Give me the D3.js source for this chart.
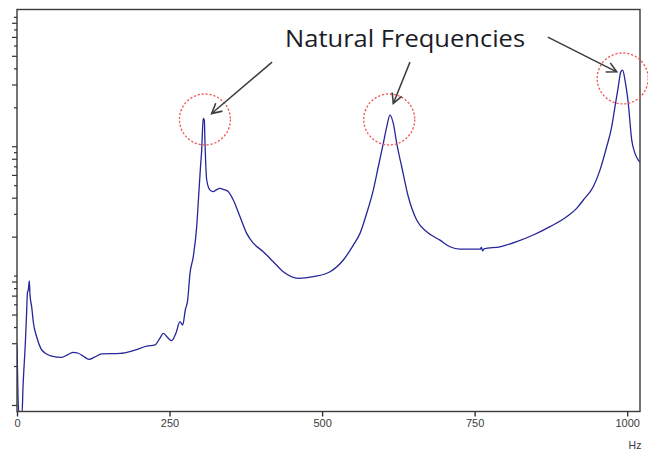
<!DOCTYPE html>
<html><head><meta charset="utf-8">
<script src="https://cdn.jsdelivr.net/npm/d3@7"></script>
<style>html,body{margin:0;padding:0;background:#fff;}svg{display:block;}</style>
</head><body>
<script>
// ---- data ----
const freqHz = [0,1.6,3.3,8.2,9.8,13.9,15.6,17.2,18.5,20.2,21.3,24.1,26.7,32.3,38.8,45.9,56.9,73.3,81.9,91.8,100.5,108.2,118.0,127.8,138.8,168.8,190.6,212.6,226.2,234.3,239.8,247.5,253.5,260.6,267.1,271.6,275.8,279.7,283.5,288.9,294.5,298.3,301.1,302.7,304.0,305.3,307.0,308.1,310.9,316.3,321.7,326.1,332.7,339.2,346.3,354.5,365.5,376.4,387.3,403.6,420.0,436.4,461.0,485.6,513.0,534.8,551.2,562.1,573.1,583.9,592.1,600.3,605.9,611.3,616.7,622.3,630.5,641.3,655.0,671.4,693.2,709.6,726.0,758.8,761.2,762.9,765.3,791.5,818.9,846.1,873.5,900.8,917.2,928.1,944.4,955.4,966.4,974.6,980.0,985.4,989.4,992.6,996.4,1001.8,1007.4,1012.8,1018.2,1021];
const amplitude = [2.91,1.19,0.85,0.85,1.35,3.18,4.96,7.46,7.73,9.08,7.07,5.71,4.38,3.35,2.75,2.52,2.39,2.33,2.43,2.55,2.51,2.39,2.25,2.35,2.48,2.50,2.63,2.85,2.91,3.29,3.58,3.29,3.14,3.60,4.40,4.15,5.42,6.47,10.4,14.0,23.9,45.8,73.7,93.4,133,164,159,106,54.8,45.8,44.5,45.8,47.2,46.2,44.5,38.4,28.5,21.2,17.8,15.3,12.8,10.7,9.52,9.80,10.7,13.2,17.2,21.2,30.3,45.8,69.4,105,141,174,150,105,69.4,40.7,26.9,21.8,18.8,16.7,16.0,16.0,16.5,15.5,16.1,16.7,18.3,20.6,23.9,28.5,33.1,38.4,48.6,65.4,99.0,141,202,288,374,388,324,214,112,88.1,78.2,75.4];
const xTicks = [0, 250, 500, 750, 1000];
const xTickLabels = ["0", "250", "500", "750", "1000"];
const yTicks = [1,2,3,4,5,6,7,8,9,10,20,30,40,50,60,70,80,90,100,200,300,400,500,600,700,800,900,1000];
const xUnit = "Hz";
const annotationText = "Natural Frequencies";
const textAnchorHz = 636, textAnchorAmp = 587;
const circleHz  = [308, 610, 992.6];
const circleAmp = [161, 161, 334];
const arrowFromHz  = [418, 644, 870];
const arrowFromAmp = [447, 447, 697];
const arrowToHz    = [319, 616.7, 982.8];
const arrowToAmp   = [179, 214, 376];

// ---- layout ----
const W = 648, H = 450;
const L = 17, R = 640, T = 9.5, B = 411.5;

const svg = d3.select("body").append("svg").attr("width", W).attr("height", H);

const x = d3.scaleLinear().domain([0, 1021]).range([L, R]);
const y = d3.scaleLog().domain([0.89, 1140]).range([B, T]);

svg.append("defs").append("clipPath").attr("id","clip")
  .append("rect").attr("x", L).attr("y", T).attr("width", R - L).attr("height", B - T);

// curve
const pts = freqHz.map((f, i) => [f, amplitude[i]]);
svg.append("path")
  .attr("clip-path","url(#clip)")
  .attr("d", d3.line().curve(d3.curveMonotoneX).x(d => x(d[0])).y(d => y(d[1]))(pts))
  .attr("fill","none").attr("stroke","#26269a").attr("stroke-width",1.3)
  .attr("stroke-linejoin","round");

// frame
svg.append("rect").attr("x", L).attr("y", T).attr("width", R - L).attr("height", B - T)
  .attr("fill","none").attr("stroke","#3a3a3a").attr("stroke-width",1.4);

// x axis
const xAxis = d3.axisBottom(x).tickValues(xTicks).tickFormat((d,i) => xTickLabels[i]).tickSize(5).tickSizeOuter(0);
const gx = svg.append("g").attr("transform", `translate(0,${B})`).call(xAxis);
gx.select(".domain").remove();
gx.selectAll("line").attr("stroke","#333").attr("stroke-width",1.4);
gx.selectAll("text").attr("fill","#3a3a3a").attr("font-family","Liberation Sans, Arial, sans-serif")
  .attr("font-size",11).attr("dy","0.95em").attr("y",5);

svg.append("text").attr("x", 635).attr("y", 448.5).attr("text-anchor","middle")
  .attr("font-family","Liberation Sans, Arial, sans-serif").attr("font-size",10.5).attr("fill","#3a3a3a")
  .text(xUnit);

// y axis
const yAxis = d3.axisLeft(y).tickValues(yTicks).tickFormat("").tickSizeOuter(0).tickSize(4);
const gy = svg.append("g").attr("transform", `translate(${L},0)`).call(yAxis);
gy.select(".domain").remove();
gy.selectAll(".tick line").attr("stroke","#333").attr("stroke-width",1.2)
  .attr("x2", (d,i) => i % 2 === 0 ? -5 : -3);

// annotations
const ann = svg.append("g");
circleHz.forEach((h, i) => {
  ann.append("circle").attr("cx", x(h)).attr("cy", y(circleAmp[i])).attr("r", 25.5)
    .attr("fill","none").attr("stroke","#f25555").attr("stroke-width",1.3)
    .attr("stroke-dasharray","2.2,1.8");
});
arrowFromHz.forEach((h, i) => {
  const x1 = x(h), y1 = y(arrowFromAmp[i]), x2 = x(arrowToHz[i]), y2 = y(arrowToAmp[i]);
  ann.append("line").attr("x1", x1).attr("y1", y1).attr("x2", x2).attr("y2", y2)
    .attr("stroke","#3c3c3c").attr("stroke-width",1.5);
  const a = Math.atan2(y2 - y1, x2 - x1), len = 11, sp = Math.PI / 6.5;
  const p = [[x2 - len*Math.cos(a - sp), y2 - len*Math.sin(a - sp)], [x2, y2], [x2 - len*Math.cos(a + sp), y2 - len*Math.sin(a + sp)]];
  ann.append("path").attr("d", d3.line()(p)).attr("fill","none").attr("stroke","#3c3c3c")
    .attr("stroke-width",1.6).attr("stroke-linejoin","miter");
});
ann.append("text").attr("x", x(textAnchorHz)).attr("y", y(textAnchorAmp))
  .attr("text-anchor","middle").attr("font-family","Open Sans, Noto Sans, sans-serif")
  .attr("font-size",24).attr("fill","#1c1c28").attr("textLength",240).attr("lengthAdjust","spacingAndGlyphs")
  .text(annotationText);
</script>
</body></html>
